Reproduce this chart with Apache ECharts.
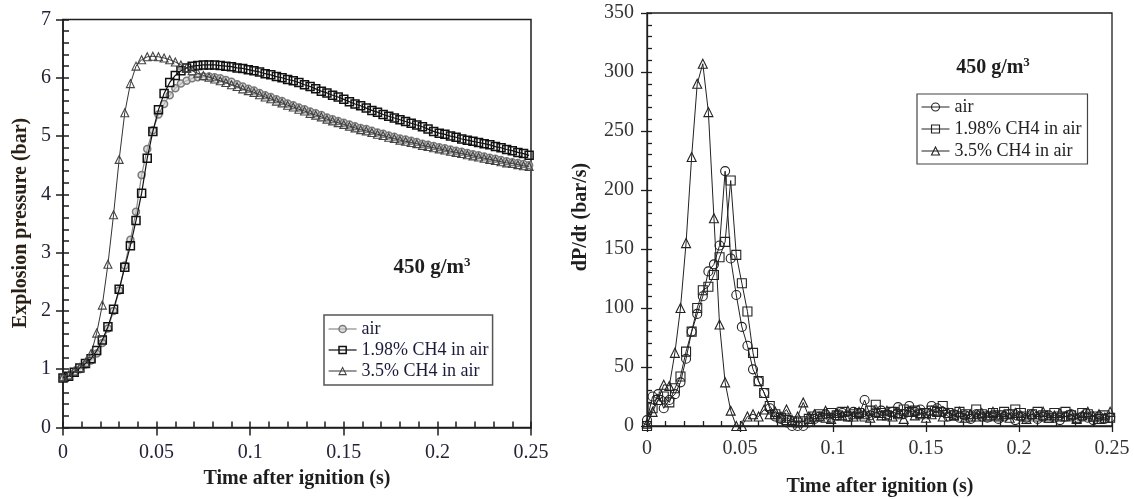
<!DOCTYPE html>
<html>
<head>
<meta charset="utf-8">
<script src="https://cdn.jsdelivr.net/npm/echarts@6/dist/echarts.min.js"></script>
<style>
html,body{margin:0;padding:0;background:#fff;}
#chart{width:1134px;height:499px;}
</style>
</head>
<body>
<div id="chart"></div>
<script>
// Sample times (s)
const time = [0,0.003,0.006,0.009,0.012,0.015,0.018,0.021,0.024,0.027,0.03,0.033,0.036,0.039,0.042,0.045,0.048,0.051,0.054,0.057,0.06,0.063,0.066,0.069,0.072,0.075,0.078,0.081,0.084,0.087,0.09,0.093,0.096,0.099,0.102,0.105,0.108,0.111,0.114,0.117,0.12,0.123,0.126,0.129,0.132,0.135,0.138,0.141,0.144,0.147,0.15,0.153,0.156,0.159,0.162,0.165,0.168,0.171,0.174,0.177,0.18,0.183,0.186,0.189,0.192,0.195,0.198,0.201,0.204,0.207,0.21,0.213,0.216,0.219,0.222,0.225,0.228,0.231,0.234,0.237,0.24,0.243,0.246,0.249];

const seriesNames = ['air', '1.98% CH4 in air', '3.5% CH4 in air'];

// Left chart: explosion pressure (bar)
const pAir = [0.85,0.88,0.94,1.00,1.08,1.15,1.27,1.45,1.70,2.00,2.35,2.78,3.22,3.70,4.33,4.78,5.10,5.37,5.55,5.70,5.82,5.90,5.95,5.99,
6.01,6.02,6.02,6.01,5.99,5.96,5.93,5.89,5.85,5.81,5.78,5.74,5.70,5.67,5.63,5.60,5.56,5.53,5.49,5.46,5.42,5.39,5.36,5.32,5.29,5.26,5.23,5.20,5.17,5.14,5.12,5.09,5.06,5.04,5.01,4.99,4.96,4.94,4.92,4.90,4.87,4.85,4.83,4.81,4.79,4.77,4.75,4.73,4.71,4.69,4.67,4.65,4.63,4.61,4.59,4.57,4.55,4.54,4.52,4.50];
const pCH4198 = [0.85,0.88,0.95,1.02,1.10,1.18,1.32,1.50,1.73,2.03,2.37,2.75,3.12,3.55,4.02,4.62,5.08,5.45,5.73,5.92,6.04,6.12,6.17,6.20,
6.21,6.22,6.22,6.22,6.21,6.20,6.19,6.17,6.16,6.14,6.12,6.10,6.07,6.05,6.02,6.00,5.97,5.95,5.92,5.88,5.85,5.81,5.77,5.74,5.70,5.67,5.63,5.59,5.55,5.52,5.48,5.44,5.41,5.37,5.34,5.31,5.28,5.25,5.22,5.19,5.16,5.12,5.08,5.05,5.03,5.00,4.98,4.95,4.93,4.91,4.89,4.87,4.85,4.82,4.80,4.77,4.75,4.72,4.70,4.67];
const pCH435 = [0.87,0.90,0.97,1.03,1.12,1.27,1.62,2.10,2.80,3.65,4.60,5.40,5.90,6.20,6.31,6.36,6.37,6.36,6.34,6.31,6.27,6.22,6.17,6.12,6.08,6.04,6.01,5.98,5.95,5.92,5.88,5.85,5.81,5.78,5.75,
5.71,5.67,5.64,5.60,5.57,5.53,5.50,5.46,5.43,5.39,5.36,5.33,5.29,5.26,5.23,5.20,5.17,5.14,5.11,5.09,5.06,5.03,5.01,4.98,4.96,4.93,4.91,4.89,4.87,4.84,4.82,4.80,4.78,4.76,4.74,4.72,4.70,4.68,4.66,4.64,4.62,4.60,4.58,4.56,4.54,4.53,4.51,4.49,4.48];

// Right chart: dP/dt (bar/s)
const rAir = [5,25,27,15,22,27,37,57,80,95,110,131,137,153,216,142,111,84,68,48,38,28,15,8,6,3,0,0,0,3,
6,8,10,7,9,11,8,12,10,22,9,11,13,10,12,16,10,17,12,14,11,17,15,12,8,10,7,9,6,10,8,7,9,6,8,10,5,8,7,10,6,8,9,7,5,8,10,6,8,7,5,8,6,7];
const rCH4198 = [0,15,22,25,20,32,42,63,80,100,115,118,128,143,156,208,145,121,97,62,38,28,17,10,7,5,4,3,4,6,
8,10,7,11,9,12,8,10,11,8,13,18,11,9,12,10,14,12,13,10,11,13,12,17,11,9,12,10,8,14,10,8,11,9,12,10,14,11,8,10,12,9,7,11,8,12,9,7,11,10,8,6,9,7];
const rCH435 = [2,12,22,35,34,62,100,155,228,290,307,266,176,86,37,13,0,0,8,10,8,14,10,12,8,14,5,8,20,8,
10,8,13,6,11,9,13,8,12,10,7,12,9,13,8,11,6,12,9,11,7,10,13,8,11,9,12,7,10,8,11,9,12,8,10,7,11,9,6,10,8,12,7,9,11,8,10,6,9,12,8,10,7,12];

function pairs(vals){ return vals.map((v,i)=>[time[i], v]); }

const FONT = 'Liberation Serif, Times New Roman, serif';
const INK = '#1e1e1e';

function axisPair(gridIndex, position, min, max, interval, opts){
  const common = {
    gridIndex: gridIndex, type:'value', position:position, offset:0, min:min, max:max, interval:interval,
    splitLine:{show:false}
  };
  const main = Object.assign({}, common, {
    axisLine:{show:true, onZero:false, lineStyle:{color:INK, width:opts.lw}},
    axisTick:{show:true, inside:false, length:opts.outLen, lineStyle:{color:INK, width:opts.lw}},
    axisLabel:{show:true, color:opts.labelColor, fontSize:20, fontFamily:FONT, margin:opts.margin},
    minorTick:{show:false}
  });
  const minor = Object.assign({}, common, {
    axisLine:{show:false, onZero:false},
    axisTick:{show:true, inside:true, length:opts.inLen, lineStyle:{color:INK, width:opts.lw}},
    axisLabel:{show:false},
    minorTick:{show:true, splitNumber:5, length:opts.inLen, lineStyle:{color:INK, width:opts.lw}}
  });
  return [main, minor];
}

const chart = echarts.init(document.getElementById('chart'), null, {renderer:'canvas'});

const lx = axisPair(0,'bottom',0,0.25,0.05,{lw:1.5,outLen:8,inLen:6,margin:15,labelColor:'#222236'});
const ly = axisPair(0,'left',0,7,1,{lw:1.5,outLen:7,inLen:6,margin:12,labelColor:'#222236'});
const rx = axisPair(1,'bottom',0,0.25,0.05,{lw:1.3,outLen:6,inLen:5,margin:13,labelColor:'#333'});
const ry = axisPair(1,'left',0,350,50,{lw:1.3,outLen:6,inLen:5,margin:13,labelColor:'#333'});

const leftStyles = [
  {symbol:'circle', size:7, fill:'rgba(200,200,200,0.6)', border:'#7a7a7a', bw:1.5, line:'#8a8a8a', lw:1.2},
  {symbol:'rect', size:8, fill:'rgba(255,255,255,0)', border:'#111', bw:1.5, line:'#111', lw:1.2},
  {symbol:'triangle', size:8, fill:'rgba(255,255,255,0)', border:'#444', bw:1.1, line:'#333', lw:1.0}
];
const rightStyles = [
  {symbol:'circle', size:9, fill:'rgba(255,255,255,0)', border:'#222', bw:1.1, line:'#222', lw:1.0},
  {symbol:'rect', size:9, fill:'rgba(255,255,255,0)', border:'#222', bw:1.1, line:'#222', lw:1.0},
  {symbol:'triangle', size:9, fill:'rgba(255,255,255,0)', border:'#222', bw:1.1, line:'#222', lw:1.0}
];

function mkSeries(name, vals, st, xi, yi, z){
  return {
    name:name, type:'line', xAxisIndex:xi, yAxisIndex:yi, data:pairs(vals),
    symbol:st.symbol, symbolSize:st.size, showSymbol:true, showAllSymbol:true,
    itemStyle:{color:st.fill, borderColor:st.border, borderWidth:st.bw},
    lineStyle:{color:st.line, width:st.lw},
    emphasis:{disabled:true}, z:z, animation:false
  };
}

function legendData(styles){
  return seriesNames.map((n,i)=>({
    name:n,
    itemStyle:{color:styles[i].fill, borderColor:styles[i].border, borderWidth:styles[i].bw},
    lineStyle:{color:styles[i].line, width:styles[i].lw}
  }));
}

const option = {
  animation:false,
  backgroundColor:'#fff',
  grid:[
    {left:63, top:19.5, width:468, height:408, show:true, borderColor:INK, borderWidth:1.5, backgroundColor:'transparent'},
    {left:647, top:13, width:465, height:413, show:true, borderColor:INK, borderWidth:1.3, backgroundColor:'transparent'}
  ],
  xAxis:[lx[0], lx[1], rx[0], rx[1]],
  yAxis:[ly[0], ly[1], ry[0], ry[1]],
  legend:[
    {
      orient:'vertical', left:324, top:315, padding:[5,4,5,4], itemGap:3,
      itemWidth:28, itemHeight:9,
      backgroundColor:'#fff', borderColor:'#555', borderWidth:1.5,
      textStyle:{fontFamily:FONT, fontSize:18, color:'#1a1a3a'},
      data:legendData(leftStyles), selectedMode:false
    },
    {
      orient:'vertical', left:917, top:94, padding:[4,6,4,4], itemGap:4,
      itemWidth:28, itemHeight:10,
      backgroundColor:'#fff', borderColor:'#444', borderWidth:1.2,
      textStyle:{fontFamily:FONT, fontSize:18, color:'#222'},
      data:legendData(rightStyles), selectedMode:false
    }
  ],
  series:[
    mkSeries(seriesNames[0], pAir, leftStyles[0], 0, 0, 3),
    mkSeries(seriesNames[1], pCH4198, leftStyles[1], 0, 0, 4),
    mkSeries(seriesNames[2], pCH435, leftStyles[2], 0, 0, 5),
    mkSeries(seriesNames[0], rAir, rightStyles[0], 2, 2, 3),
    mkSeries(seriesNames[1], rCH4198, rightStyles[1], 2, 2, 4),
    mkSeries(seriesNames[2], rCH435, rightStyles[2], 2, 2, 5)
  ],
  graphic:[
    {type:'text', x:21, y:223, rotation:Math.PI/2, style:{text:'Explosion pressure (bar)', font:'bold 20px '+FONT, fill:'#2a2016', align:'center', verticalAlign:'middle'}},
    {type:'text', x:297, y:479, style:{text:'Time after ignition (s)', font:'bold 20px '+FONT, fill:INK, align:'center', verticalAlign:'middle'}},
    {type:'text', x:581, y:217, rotation:Math.PI/2, style:{text:'dP/dt (bar/s)', font:'bold 20px '+FONT, fill:INK, align:'center', verticalAlign:'middle'}},
    {type:'text', x:880, y:487, style:{text:'Time after ignition (s)', font:'bold 20px '+FONT, fill:INK, align:'center', verticalAlign:'middle'}},
    {type:'text', x:432, y:268, style:{text:'{a|450 g/m}{s|3}', align:'center', verticalAlign:'middle',
      rich:{a:{font:'bold 21px '+FONT, fill:INK}, s:{font:'bold 13px '+FONT, fill:INK, padding:[0,0,10,0]}}}},
    {type:'text', x:993, y:68, style:{text:'{a|450 g/m}{s|3}', align:'center', verticalAlign:'middle',
      rich:{a:{font:'bold 20px '+FONT, fill:INK}, s:{font:'bold 13px '+FONT, fill:INK, padding:[0,0,10,0]}}}}
  ]
};
chart.setOption(option);
</script>
</body>
</html>
